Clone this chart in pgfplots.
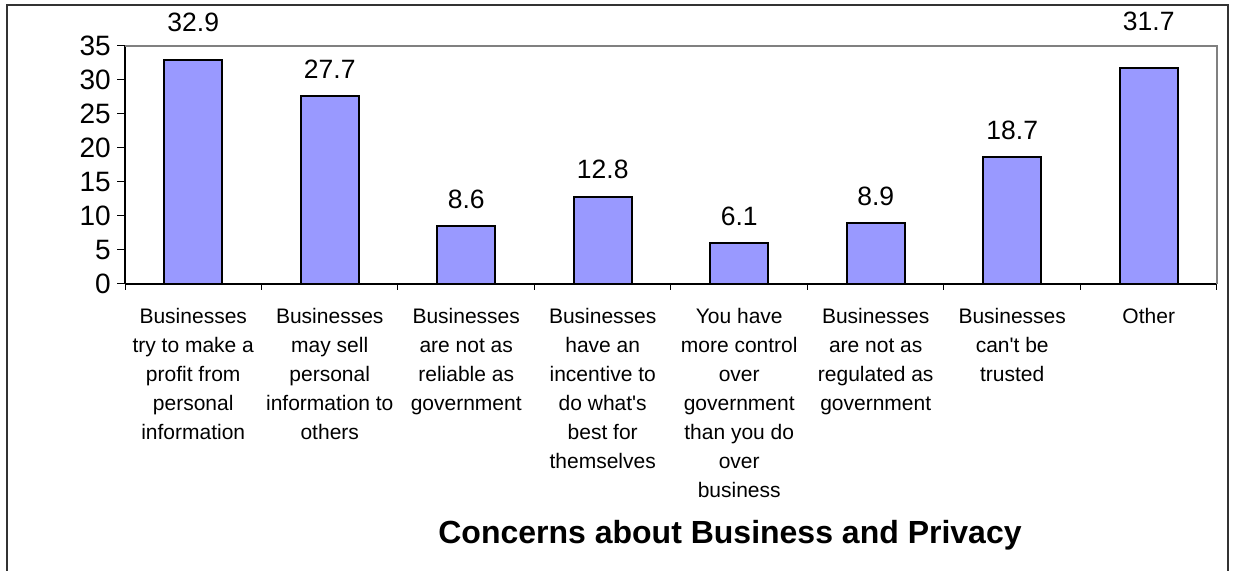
\documentclass[border=0pt]{standalone}
\usepackage{pgfplots}
\pgfplotsset{compat=1.18}
\usepackage{pgfplotstable}
\usepackage{fontspec}
\setmainfont{Liberation Sans}[Ligatures=TeXOff]

\definecolor{barblue}{HTML}{9999FF}
\definecolor{plotgray}{HTML}{808080}
\definecolor{framegray}{HTML}{333333}

% idx: category position, value: percentage, lift: label height above the bar (bp)
\pgfplotstableread{
idx value lift
0 32.9 29
1 27.7 17.5
2 8.6  17.5
3 12.8 18.5
4 6.1  17.5
5 8.9  17.5
6 18.7 17.5
7 31.7 37.5
}\concerns

\begin{document}
\begin{tikzpicture}
\path[use as bounding box] (0,0) rectangle (1235bp,571bp);
\draw[framegray, line width=1.8bp] (7bp,-10bp) -- (7bp,566bp) -- (1228bp,566bp) -- (1228bp,-10bp);
\begin{axis}[
  at={(125bp,287bp)}, anchor=south west,
  scale only axis, width=1092bp, height=238bp,
  xmin=-0.5, xmax=7.5, ymin=0, ymax=35,
  clip=false,
  axis x line*=bottom, axis y line*=left,
  axis line style={black, line width=1.2bp, -},
  ytick={0,5,...,35},
  xtick={0,...,7},
  xticklabels={
    {Businesses\\try to make a\\profit from\\personal\\information},
    {Businesses\\may sell\\personal\\information to\\others},
    {Businesses\\are not as\\reliable as\\government},
    {Businesses\\have an\\incentive to\\do what's\\best for\\themselves},
    {You have\\more control\\over\\government\\than you do\\over\\business},
    {Businesses\\are not as\\regulated as\\government},
    {Businesses\\can't be\\trusted},
    {Other}},
  minor xtick={-0.5,0.5,...,7.5},
  tick align=outside,
  major tick length=8bp, minor tick length=6bp,
  major x tick style={draw=none},
  minor x tick style={black, line width=1bp},
  ytick style={black, line width=1bp},
  /pgf/number format/assume math mode=true,
  yticklabel style={font=\fontsize{28bp}{32bp}\selectfont, anchor=east, inner sep=0pt, xshift=-6bp},
  xticklabel style={font=\fontsize{21bp}{29bp}\selectfont, align=center, anchor=north, inner sep=0pt, yshift=-16bp},
]
\addplot[ybar, bar width=58bp, fill=barblue, draw=black, line width=2bp,
  point meta=explicit,
  visualization depends on={\thisrow{lift} \as \lift},
  nodes near coords={\pgfmathprintnumber[fixed,precision=1,fixed zerofill]{\pgfplotspointmeta}},
  nodes near coords style={anchor=base, inner sep=0pt, yshift=\lift bp,
    font=\fontsize{26.5bp}{30bp}\selectfont, text=black},
] table[x=idx, y=value, meta=value] {\concerns};
\draw[plotgray, line width=1.2bp] (rel axis cs:0,1) -- (rel axis cs:1,1) -- (rel axis cs:1,0);
\end{axis}
\node[anchor=base, font=\bfseries\fontsize{32bp}{36bp}\selectfont] at (730bp,28bp) {Concerns about Business and Privacy};
\end{tikzpicture}
\end{document}
